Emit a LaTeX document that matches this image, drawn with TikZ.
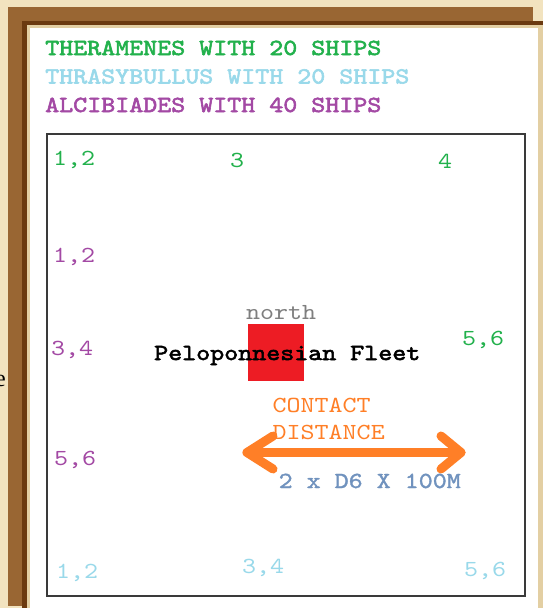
\documentclass[tikz,border=0pt]{standalone}
\usepackage{fontspec}
\newfontfamily\ctt{lmmono10-regular.otf}[FakeStretch=1.16]
\newfontfamily\cttb{lmmono10-regular.otf}[FakeStretch=1.16, FakeBold=2.5]
\newfontfamily\cttm{lmmono10-regular.otf}[FakeStretch=1.16, FakeBold=1.5]
\newfontfamily\cserif{Liberation Serif}
\definecolor{parch}{HTML}{F2E3BF}
\definecolor{frbrown}{HTML}{996633}
\definecolor{frdark}{HTML}{6B3A10}
\definecolor{frtan}{HTML}{E3CFA3}
\definecolor{cgreen}{HTML}{22B14C}
\definecolor{ccyan}{HTML}{99D9EA}
\definecolor{cpurple}{HTML}{A349A4}
\definecolor{corange}{HTML}{FF7F27}
\definecolor{cred}{HTML}{ED1C24}
\definecolor{cgray}{HTML}{7F7F7F}
\definecolor{cblue}{HTML}{7092BE}
\definecolor{boxline}{HTML}{3A3A3A}
\tikzset{
  legend/.style={anchor=base west, inner sep=0pt, font=\cttb\fontsize{23}{28}\selectfont},
  num/.style={anchor=base west, inner sep=0pt, font=\ctt\fontsize{23}{28}\selectfont},
  lbl/.style={anchor=base west, inner sep=0pt, font=\ctt\fontsize{23}{28}\selectfont},
  lblb/.style={anchor=base west, inner sep=0pt, font=\cttb\fontsize{23}{28}\selectfont},
  lblm/.style={anchor=base west, inner sep=0pt, font=\cttm\fontsize{23}{28}\selectfont},
  arrowline/.style={draw=corange, line width=9pt, line cap=round, line join=round},
}
\begin{document}
\begin{tikzpicture}[x=1pt,y=-1pt]
\useasboundingbox (0,0) rectangle (543,608);
% parchment and frame
\fill[parch] (0,0) rectangle (543,608);
\fill[frbrown] (8,7) rectangle (533,606);
\fill[frdark] (22,21) rectangle (543,608);
\fill[frtan] (27,25) rectangle (543,608);
\fill[white] (30,28) rectangle (538,608);
% fragment of outside text
\node[anchor=base east, inner sep=0pt, font=\cserif\fontsize{24}{28}\selectfont] (frag) at (6,386) {e};
% legend
\node[legend, text=cgreen] (leg1) at (45,55) {THERAMENES WITH 20 SHIPS};
\node[legend, text=ccyan] (leg2) at (45,83.5) {THRASYBULLUS WITH 20 SHIPS};
\node[legend, text=cpurple] (leg3) at (45,112) {ALCIBIADES WITH 40 SHIPS};
% inner box
\draw[boxline, line width=1.6pt] (47,134) rectangle (525,596);
% green positions
\node[num, text=cgreen] (g12) at (53,165) {1,2};
\node[num, text=cgreen] (g3) at (230,167) {3};
\node[num, text=cgreen] (g4) at (438,168) {4};
\node[num, text=cgreen] (g56) at (462,345) {5,6};
% purple positions
\node[num, text=cpurple] (p12) at (53,262) {1,2};
\node[num, text=cpurple] (p34) at (51,355) {3,4};
\node[num, text=cpurple] (p56) at (54,465) {5,6};
% cyan positions
\node[num, text=ccyan] (c12) at (56,578) {1,2};
\node[num, text=ccyan] (c34) at (242,573) {3,4};
\node[num, text=ccyan] (c56) at (464,576) {5,6};
% fleet
\node[lbl, text=cgray] (north) at (246,319) {north};
\fill[cred] (248,324) rectangle (304,381);
\node[lblb, text=black] (fleet) at (154,360) {Peloponnesian Fleet};
% contact distance
\node[lbl, text=corange] (contact) at (272.5,412) {CONTACT};
\node[lbl, text=corange] (dist) at (272.5,439) {DISTANCE};
\coordinate (lt) at (247,452.5);
\coordinate (rt) at (461,452.5);
\coordinate (lu) at (273,436);
\coordinate (ld) at (273,469);
\coordinate (ru) at (441,436);
\coordinate (rd) at (441,469);
\draw[arrowline] (lt) -- (rt);
\draw[arrowline] (lu) -- (lt) -- (ld);
\draw[arrowline] (ru) -- (rt) -- (rd);
\node[lblm, text=cblue] (dice) at (278.5,488) {2 x D6 X 100M};
\end{tikzpicture}
\end{document}
